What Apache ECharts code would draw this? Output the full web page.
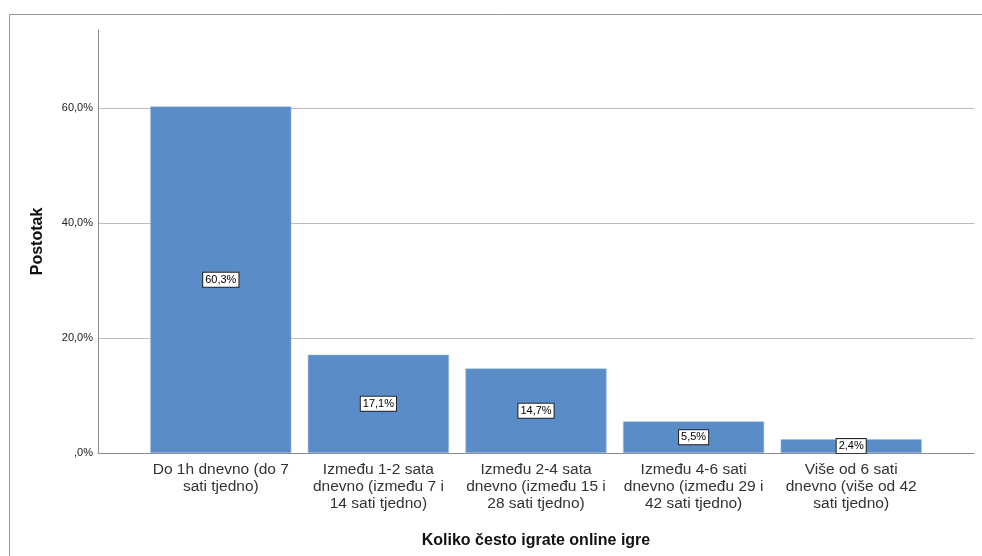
<!DOCTYPE html>
<html>
<head>
<meta charset="utf-8">
<script src="https://cdn.jsdelivr.net/npm/echarts@6/dist/echarts.min.js"></script>
<style>
  html, body { margin: 0; padding: 0; background: #fff; }
  #chart { width: 982px; height: 556px; }
</style>
</head>
<body>
<div id="chart"></div>
<script>
var categories = [
    'Do 1h dnevno (do 7\nsati tjedno)',
    'Između 1-2 sata\ndnevno (između 7 i\n14 sati tjedno)',
    'Između 2-4 sata\ndnevno (između 15 i\n28 sati tjedno)',
    'Između 4-6 sati\ndnevno (između 29 i\n42 sati tjedno)',
    'Više od 6 sati\ndnevno (više od 42\nsati tjedno)'
];
var percents = [60.3, 17.1, 14.7, 5.5, 2.4];
var yMax = 73.6;

var fontFamily = '"Liberation Sans", Arial, sans-serif';

// zarez kao decimalni separator (SPSS stil)
function fmtPct(v) {
    var s = v.toFixed(1).replace('.', ',');
    if (s.indexOf('0,') === 0) s = s.substring(1);
    return s + '%';
}

var myChart = echarts.init(document.getElementById('chart'));

var option = {
    backgroundColor: '#fff',
    textStyle: { fontFamily: fontFamily },
    animation: false,
    graphic: [{
        type: 'rect',
        left: 7,
        top: 12,
        shape: { width: 1100, height: 700 },
        style: { fill: 'none', stroke: '#9a9a9a', lineWidth: 1 },
        silent: true
    }],
    grid: [
        // okvir s osima i linijama mreže
        { left: 98, right: 8, top: 30, bottom: 103 },
        // stupci
        { left: 142, right: 52, top: 30, bottom: 103 }
    ],
    xAxis: [
        {
            type: 'category',
            gridIndex: 0,
            data: [''],
            axisLine: { show: true, lineStyle: { color: '#8a8a8a', width: 1 } },
            axisTick: { show: false },
            axisLabel: { show: false },
            splitLine: { show: false }
        },
        {
            type: 'category',
            gridIndex: 1,
            data: categories,
            name: 'Koliko često igrate online igre',
            nameLocation: 'middle',
            nameGap: 80,
            nameTextStyle: { color: '#111', fontSize: 16, fontWeight: 'bold', fontFamily: fontFamily },
            axisLine: { show: false },
            axisTick: { show: false },
            axisLabel: {
                interval: 0,
                color: '#333',
                fontSize: 15.5,
                lineHeight: 17,
                margin: 8,
                fontFamily: fontFamily
            }
        }
    ],
    yAxis: [
        {
            type: 'value',
            gridIndex: 0,
            min: 0,
            max: yMax,
            interval: 20,
            name: 'Postotak',
            nameLocation: 'middle',
            nameRotate: 90,
            nameGap: 52,
            nameTextStyle: { color: '#111', fontSize: 16, fontWeight: 'bold', fontFamily: fontFamily },
            axisLine: { show: true, lineStyle: { color: '#8a8a8a', width: 1 } },
            axisTick: { show: false },
            axisLabel: {
                color: '#222',
                fontSize: 11,
                margin: 5,
                padding: [4, 0, 0, 0],
                showMaxLabel: false,
                formatter: function (v) { return fmtPct(v); }
            },
            splitLine: {
                show: true,
                showMinLine: false,
                showMaxLine: false,
                lineStyle: { color: '#bdbdbd', width: 1 }
            }
        },
        {
            type: 'value',
            gridIndex: 1,
            min: 0,
            max: yMax,
            show: false,
            splitLine: { show: false }
        }
    ],
    series: [{
        type: 'bar',
        xAxisIndex: 1,
        yAxisIndex: 1,
        data: percents,
        barCategoryGap: '10.5%',
        itemStyle: {
            color: '#5a8dc8',
            borderColor: '#9dbde2',
            borderWidth: 0.5
        },
        label: {
            show: true,
            position: 'inside',
            formatter: function (p) { return fmtPct(p.value); },
            color: '#000',
            fontSize: 11,
            fontFamily: fontFamily,
            backgroundColor: '#fff',
            borderColor: '#222',
            borderWidth: 1,
            padding: [2, 2, 1, 2]
        }
    }]
};
myChart.setOption(option);
</script>
</body>
</html>
